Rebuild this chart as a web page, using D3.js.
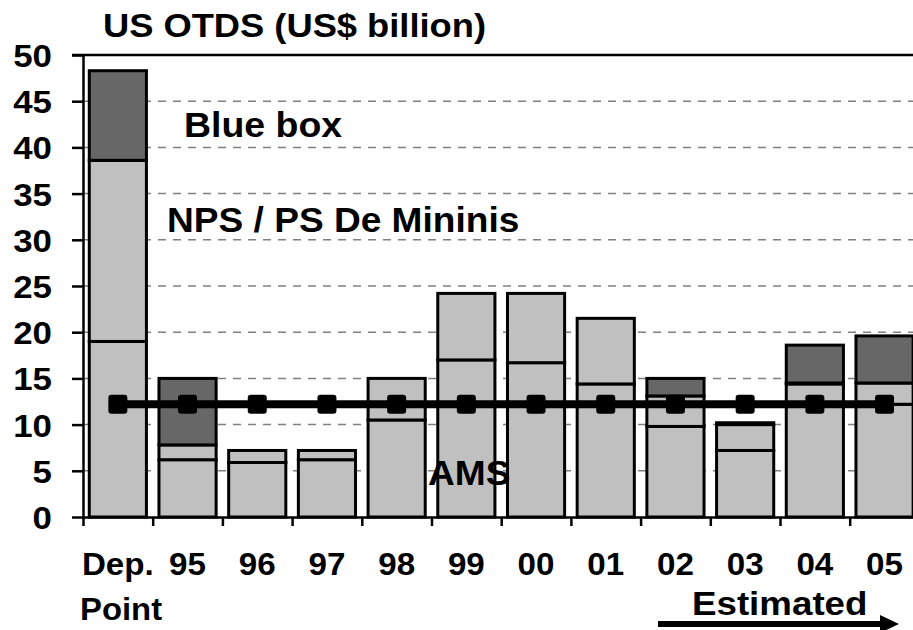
<!DOCTYPE html>
<html>
<head>
<meta charset="utf-8">
<script src="https://cdn.jsdelivr.net/npm/d3@7"></script>
<style>
  body { margin: 0; background: #fff; }
  text { font-family: "Liberation Sans", Arial, sans-serif; font-weight: bold; fill: #000; }
</style>
</head>
<body>
<script>
// values (US$ billion)
var categories = ["Dep.", "95", "96", "97", "98", "99", "00", "01", "02", "03", "04", "05"];
var ams  = [19.0, 6.2, 5.9, 6.2, 10.5, 17.0, 16.7, 14.4, 9.8, 7.2, 14.4, 12.2];
var nps  = [19.6, 1.6, 1.3, 1.0, 4.5, 7.2, 7.5, 7.1, 3.3, 2.8, 0.1, 2.3];
var blue = [9.7, 7.2, 0, 0, 0, 0, 0, 0, 1.9, 0.2, 4.1, 5.1];
var amsLimit = [12.2, 12.2, 12.2, 12.2, 12.2, 12.2, 12.2, 12.2, 12.2, 12.2, 12.2, 12.2];
var yTicks = [0, 5, 10, 15, 20, 25, 30, 35, 40, 45, 50];

function init() {
    var w = 913, h = 630;
    var left = 83, top = 55, bottom = 517;
    var right = left + 12 * 69.7;

    var colors = { ams: "#c0c0c0", nps: "#c0c0c0", blue: "#676767" };

    var svg = d3.select("body").append("svg")
        .attr("width", w)
        .attr("height", h);

    var x = d3.scaleBand()
        .domain(categories)
        .range([left, right])
        .paddingInner(0.18)
        .paddingOuter(0.09);

    var xEdge = d3.scaleLinear()
        .domain([0, categories.length])
        .range([left, right]);

    var y = d3.scaleLinear()
        .domain([0, 50])
        .range([bottom, top]);

    // dashed gridlines
    svg.append("g").selectAll("line")
        .data(yTicks.filter(function(d) { return d > 0 && d < 50; }))
        .enter().append("line")
        .attr("x1", left).attr("x2", right)
        .attr("y1", function(d) { return y(d); })
        .attr("y2", function(d) { return y(d); })
        .attr("stroke", "#808080")
        .attr("stroke-width", 1.5)
        .attr("stroke-dasharray", "8,7");

    // stacked bars
    var rows = categories.map(function(c, i) {
        return { cat: c, ams: ams[i], nps: nps[i], blue: blue[i] };
    });
    var stack = d3.stack().keys(["ams", "nps", "blue"]);
    var layers = svg.append("g").selectAll("g")
        .data(stack(rows))
        .enter().append("g")
        .attr("fill", function(d) { return colors[d.key]; });

    layers.selectAll("rect")
        .data(function(d) { return d.filter(function(s) { return s[1] - s[0] > 0; }); })
        .enter().append("rect")
        .attr("x", function(d) { return x(d.data.cat); })
        .attr("width", x.bandwidth())
        .attr("y", function(d) { return y(d[1]); })
        .attr("height", function(d) { return y(d[0]) - y(d[1]); })
        .attr("stroke", "#000")
        .attr("stroke-width", 3);

    // axes
    var yAxis = svg.append("g")
        .attr("transform", "translate(" + left + ",0)")
        .call(d3.axisLeft(y).tickValues(yTicks).tickSize(11).tickSizeOuter(0));
    yAxis.selectAll("text")
        .attr("x", -31 / 1.09)
        .attr("dy", "0.36em")
        .attr("transform", "scale(1.09,1)")
        .style("font-size", "32px");

    svg.append("g")
        .attr("transform", "translate(0," + bottom + ")")
        .call(d3.axisBottom(xEdge).tickValues(d3.range(categories.length + 1))
            .tickFormat("").tickSize(9).tickSizeOuter(0));

    var xAxis = svg.append("g")
        .attr("transform", "translate(0," + bottom + ")")
        .call(d3.axisBottom(x).tickSize(0));
    xAxis.select(".domain").remove();
    xAxis.selectAll("text")
        .attr("y", 58)
        .attr("dy", 0)
        .attr("transform", "scale(1.07,1)")
        .style("font-size", "31px");

    svg.selectAll(".domain, .tick line")
        .attr("stroke", "#000")
        .attr("stroke-width", 2.5);

    // top border of the plot
    svg.append("line")
        .attr("x1", left - 11).attr("x2", right)
        .attr("y1", y(50)).attr("y2", y(50))
        .attr("stroke", "#000")
        .attr("stroke-width", 2.5);

    // AMS commitment line with square markers
    var line = d3.line()
        .x(function(d, i) { return x(categories[i]) + x.bandwidth() / 2; })
        .y(function(d) { return y(d); });

    svg.append("path")
        .datum(amsLimit)
        .attr("d", line)
        .attr("fill", "none")
        .attr("stroke", "#000")
        .attr("stroke-width", 8);

    svg.append("g").selectAll("rect")
        .data(amsLimit)
        .enter().append("rect")
        .attr("x", function(d, i) { return x(categories[i]) + x.bandwidth() / 2 - 9.5; })
        .attr("y", function(d) { return y(d) - 9.5; })
        .attr("width", 19)
        .attr("height", 19)
        .attr("rx", 3)
        .attr("fill", "#000");

    // free text
    function label(px, py, str, size, sx) {
        svg.append("text")
            .attr("transform", "translate(" + px + "," + py + ") scale(" + sx + ",1)")
            .style("font-size", size + "px")
            .text(str);
    }
    label(103, 37, "US OTDS (US$ billion)", 33, 1.1);
    label(184, 137, "Blue box", 35, 1.07);
    label(167, 232, "NPS / PS De Mininis", 35, 1.06);
    label(428, 485, "AMS", 35, 1.06);
    label(80, 620, "Point", 31, 1.06);
    label(692, 615, "Estimated", 34, 1.08);

    // "Estimated" arrow
    svg.append("line")
        .attr("x1", 658).attr("x2", 884)
        .attr("y1", 624).attr("y2", 624)
        .attr("stroke", "#000")
        .attr("stroke-width", 6);
    svg.append("path")
        .attr("d", "M880,615 L899,624 L880,633 Z")
        .attr("fill", "#000");
}

window.onload = init;
</script>
</body>
</html>
